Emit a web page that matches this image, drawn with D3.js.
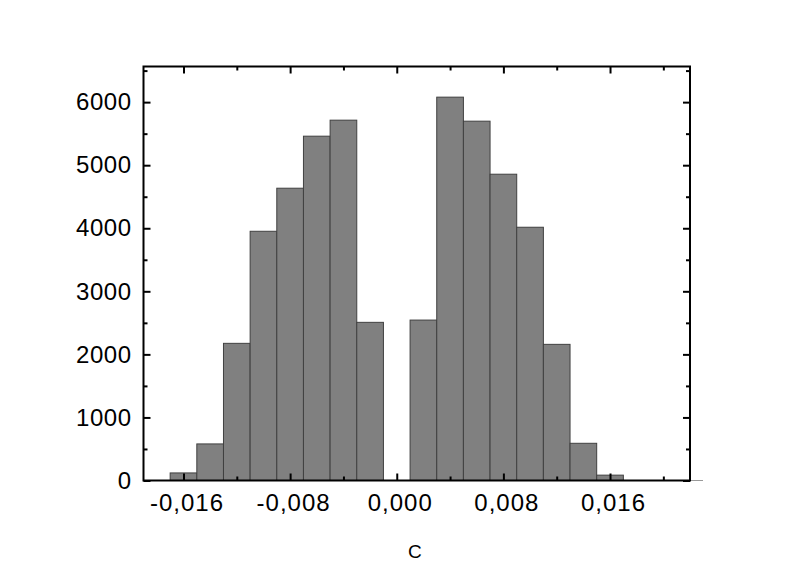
<!DOCTYPE html>
<html>
<head>
<meta charset="utf-8">
<script src="https://cdn.jsdelivr.net/npm/d3@7"></script>
<style>
  body { margin: 0; background: #fff; }
  svg { display: block; }
  .tick text { font-family: "Liberation Sans", Arial, sans-serif; font-size: 24px; fill: #000; }
  .x-axis .tick text { letter-spacing: 1px; }
  .y-axis .tick text { letter-spacing: 0.5px; }
  .axis-title { font-family: "Liberation Sans", Arial, sans-serif; font-size: 19px; fill: #000; }
</style>
</head>
<body>
<svg></svg>
<script>
const SVG_WIDTH = 801;
const SVG_HEIGHT = 576;

// Histogram bins (left edge of each bin) and counts.
const BIN_WIDTH = 0.002;
const binStarts = [
  -0.017, -0.015, -0.013, -0.011, -0.009, -0.007, -0.005, -0.003,
  0.001, 0.003, 0.005, 0.007, 0.009, 0.011, 0.013, 0.015
];
const counts = [
  120, 580, 2175, 3952, 4635, 5460, 5714, 2508,
  2544, 6079, 5698, 4857, 4016, 2159, 590, 85
];

const xTicks = [-0.016, -0.008, 0, 0.008, 0.016];
const xMinorTicks = [-0.012, -0.004, 0.004, 0.012, 0.02];
const yTicks = [0, 1000, 2000, 3000, 4000, 5000, 6000];
const yMinorTicks = [500, 1500, 2500, 3500, 4500, 5500, 6500];
const xTitle = 'C';

const margin = {left: 143.5, right: 111, top: 66.5, bottom: 95.5};
const width = SVG_WIDTH - margin.left - margin.right;
const height = SVG_HEIGHT - margin.top - margin.bottom;

// Comma as the decimal separator.
const locale = d3.formatLocale({decimal: ',', thousands: '', grouping: [3], currency: ['', ''], minus: '-'});
const fmtX = locale.format('.3f');

const svg = d3
  .select('svg')
  .attr('width', SVG_WIDTH)
  .attr('height', SVG_HEIGHT)
  .attr('viewBox', `0 0 ${SVG_WIDTH} ${SVG_HEIGHT}`);

const g = svg.append('g').attr('transform', `translate(${margin.left},${margin.top})`);

const x = d3.scaleLinear().domain([-0.019, 0.022]).range([0, width]);
const y = d3.scaleLinear().domain([0, 6565]).range([height, 0]);

// Bars.
g.selectAll('rect.bar')
  .data(binStarts)
  .enter()
  .append('rect')
  .attr('class', 'bar')
  .attr('x', d => x(d))
  .attr('width', d => x(d + BIN_WIDTH) - x(d))
  .attr('y', (d, i) => y(counts[i]))
  .attr('height', (d, i) => y(0) - y(counts[i]))
  .attr('fill', '#808080')
  .attr('stroke', '#404040')
  .attr('stroke-width', 1);

// Little gray tail of the x axis past the frame.
g.append('line')
  .attr('x1', width)
  .attr('x2', width + 13)
  .attr('y1', height)
  .attr('y2', height)
  .attr('stroke', '#999')
  .attr('stroke-width', 1);

function styleAxis(sel) {
  sel.select('.domain').remove();
  sel.selectAll('.tick line').attr('stroke', '#000').attr('stroke-width', 2);
}

// Major ticks, pointing inward on all four sides.
g.append('g')
  .attr('class', 'x-axis')
  .attr('transform', `translate(0,${height})`)
  .call(d3.axisBottom(x).tickValues(xTicks).tickFormat(fmtX).tickSize(-7).tickPadding(13))
  .call(styleAxis)
  .selectAll('.tick text')
  .attr('dx', 3);
g.append('g')
  .call(d3.axisTop(x).tickValues(xTicks).tickFormat('').tickSize(-7))
  .call(styleAxis);
g.append('g')
  .attr('class', 'y-axis')
  .call(d3.axisLeft(y).tickValues(yTicks).tickFormat(d3.format('d')).tickSize(-7).tickPadding(12))
  .call(styleAxis);
g.append('g')
  .attr('transform', `translate(${width},0)`)
  .call(d3.axisRight(y).tickValues(yTicks).tickFormat('').tickSize(-7))
  .call(styleAxis);

// Minor ticks.
g.append('g')
  .attr('transform', `translate(0,${height})`)
  .call(d3.axisBottom(x).tickValues(xMinorTicks).tickFormat('').tickSize(-4))
  .call(styleAxis);
g.append('g')
  .call(d3.axisTop(x).tickValues(xMinorTicks).tickFormat('').tickSize(-4))
  .call(styleAxis);
g.append('g')
  .call(d3.axisLeft(y).tickValues(yMinorTicks).tickFormat('').tickSize(-4))
  .call(styleAxis);
g.append('g')
  .attr('transform', `translate(${width},0)`)
  .call(d3.axisRight(y).tickValues(yMinorTicks).tickFormat('').tickSize(-4))
  .call(styleAxis);

// Frame.
g.append('rect')
  .attr('width', width)
  .attr('height', height)
  .attr('fill', 'none')
  .attr('stroke', '#000')
  .attr('stroke-width', 2);

// Axis title.
g.append('text')
  .attr('class', 'axis-title')
  .attr('x', width / 2 - 2)
  .attr('y', height + 77)
  .attr('text-anchor', 'middle')
  .text(xTitle);
</script>
</body>
</html>
